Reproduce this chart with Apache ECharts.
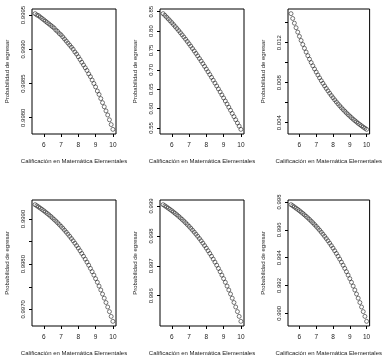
<!DOCTYPE html>
<html>
<head>
<meta charset="utf-8">
<script src="https://cdn.jsdelivr.net/npm/echarts@6/dist/echarts.min.js"></script>
<style>
  html, body { margin: 0; padding: 0; background: #fff; }
  #main { width: 384px; height: 357px; }
</style>
</head>
<body>
<div id="main"></div>
<script>
// nota de Matemática Elementales (eje x)
const notas = [5.5, 5.6, 5.7, 5.8, 5.9, 6.0, 6.1, 6.2, 6.3, 6.4, 6.5, 6.6, 6.7, 6.8, 6.9,
  7.0, 7.1, 7.2, 7.3, 7.4, 7.5, 7.6, 7.7, 7.8, 7.9, 8.0, 8.1, 8.2, 8.3, 8.4, 8.5, 8.6, 8.7,
  8.8, 8.9, 9.0, 9.1, 9.2, 9.3, 9.4, 9.5, 9.6, 9.7, 9.8, 9.9, 10.0]

// probabilidad de egresar, un arreglo por panel
const prob1 = [0.99952, 0.99950, 0.99949, 0.99947, 0.99945, 0.99943, 0.99941, 0.99939, 0.99937,
  0.99935, 0.99933, 0.99931, 0.99928, 0.99926, 0.99923, 0.99921, 0.99918, 0.99915, 0.99912,
  0.99909, 0.99906, 0.99903, 0.99900, 0.99896, 0.99893, 0.99889, 0.99885, 0.99881, 0.99877,
  0.99873, 0.99869, 0.99864, 0.99860, 0.99855, 0.99850, 0.99845, 0.99839, 0.99834, 0.99828,
  0.99822, 0.99816, 0.99810, 0.99804, 0.99797, 0.99790, 0.99783]
const prob2 = [0.8450, 0.8406, 0.8360, 0.8314, 0.8266, 0.8218, 0.8168, 0.8117, 0.8065, 0.8012,
  0.7958, 0.7903, 0.7847, 0.7790, 0.7732, 0.7672, 0.7612, 0.7550, 0.7487, 0.7424, 0.7359,
  0.7293, 0.7227, 0.7159, 0.7090, 0.7020, 0.6950, 0.6878, 0.6806, 0.6732, 0.6658, 0.6583,
  0.6507, 0.6430, 0.6353, 0.6275, 0.6196, 0.6117, 0.6037, 0.5956, 0.5875, 0.5793, 0.5712,
  0.5629, 0.5547, 0.5464]
const prob3 = [0.014900, 0.014415, 0.013946, 0.013492, 0.013052, 0.012627, 0.012216, 0.011818,
  0.011432, 0.011058, 0.010697, 0.010348, 0.010010, 0.009682, 0.009366, 0.009060, 0.008764,
  0.008477, 0.008199, 0.007931, 0.007671, 0.007420, 0.007177, 0.006941, 0.006715, 0.006494,
  0.006281, 0.006075, 0.005875, 0.005683, 0.005497, 0.005316, 0.005141, 0.004972, 0.004809,
  0.004651, 0.004499, 0.004351, 0.004207, 0.004069, 0.003935, 0.003806, 0.003681, 0.003560,
  0.003443, 0.003330]
const prob4 = [0.999316, 0.999291, 0.999265, 0.999239, 0.999211, 0.999182, 0.999153, 0.999122,
  0.999091, 0.999058, 0.999024, 0.998989, 0.998953, 0.998916, 0.998877, 0.998837, 0.998796,
  0.998753, 0.998709, 0.998663, 0.998616, 0.998567, 0.998517, 0.998464, 0.998410, 0.998355,
  0.998297, 0.998237, 0.998175, 0.998111, 0.998045, 0.997977, 0.997906, 0.997833, 0.997758,
  0.997679, 0.997599, 0.997515, 0.997429, 0.997339, 0.997247, 0.997151, 0.997052, 0.996950,
  0.996844, 0.996735]
const prob5 = [0.999043, 0.999005, 0.998966, 0.998926, 0.998884, 0.998841, 0.998796, 0.998750,
  0.998703, 0.998653, 0.998602, 0.998550, 0.998495, 0.998439, 0.998380, 0.998320, 0.998257,
  0.998193, 0.998126, 0.998057, 0.997986, 0.997912, 0.997836, 0.997757, 0.997675, 0.997591,
  0.997503, 0.997413, 0.997320, 0.997223, 0.997123, 0.997020, 0.996913, 0.996803, 0.996689,
  0.996571, 0.996449, 0.996322, 0.996192, 0.996057, 0.995917, 0.995773, 0.995623, 0.995469,
  0.995309, 0.995144]
const prob6 = [0.997806, 0.997725, 0.997641, 0.997554, 0.997465, 0.997372, 0.997276, 0.997177,
  0.997074, 0.996968, 0.996858, 0.996745, 0.996628, 0.996506, 0.996381, 0.996251, 0.996117,
  0.995978, 0.995835, 0.995686, 0.995533, 0.995374, 0.995210, 0.995040, 0.994865, 0.994684,
  0.994496, 0.994302, 0.994101, 0.993894, 0.993679, 0.993457, 0.993228, 0.992990, 0.992745,
  0.992491, 0.992228, 0.991957, 0.991676, 0.991386, 0.991086, 0.990775, 0.990454, 0.990122,
  0.989779, 0.989424]

// marcas del eje x
const xTicks = [6, 7, 8, 9, 10]
// marcas y etiquetas del eje y por panel
const yTicks1 = [0.9980, 0.9985, 0.9990, 0.9995]
const yLabels1 = [0.9980, 0.9985, 0.9990, 0.9995]
const yTicks2 = [0.55, 0.60, 0.65, 0.70, 0.75, 0.80, 0.85]
const yLabels2 = [0.55, 0.60, 0.65, 0.70, 0.75, 0.80, 0.85]
const yTicks3 = [0.004, 0.006, 0.008, 0.010, 0.012, 0.014]
const yLabels3 = [0.004, 0.008, 0.012]
const yTicks4 = [0.9970, 0.9975, 0.9980, 0.9985, 0.9990]
const yLabels4 = [0.9970, 0.9980, 0.9990]
const yTicks5 = [0.996, 0.997, 0.998, 0.999]
const yLabels5 = [0.996, 0.997, 0.998, 0.999]
const yTicks6 = [0.990, 0.992, 0.994, 0.996, 0.998]
const yLabels6 = [0.990, 0.992, 0.994, 0.996, 0.998]

const xTitle = 'Calificación en Matemática Elementales'
const yTitle = 'Probabilidad de egresar'

const paneles = [
  { y: prob1, ticks: yTicks1, labels: yLabels1, dec: 4 },
  { y: prob2, ticks: yTicks2, labels: yLabels2, dec: 2 },
  { y: prob3, ticks: yTicks3, labels: yLabels3, dec: 3 },
  { y: prob4, ticks: yTicks4, labels: yLabels4, dec: 4 },
  { y: prob5, ticks: yTicks5, labels: yLabels5, dec: 3 },
  { y: prob6, ticks: yTicks6, labels: yLabels6, dec: 3 }
]

const font = 'Liberation Sans, Arial, sans-serif'
const txt = '#222'
// rango como en R: 4% extra a cada lado
const ext = v => (v.max - v.min) * 0.04

const grids = [], xAxes = [], yAxes = [], series = []
paneles.forEach((p, i) => {
  const col = i % 3
  const row = Math.floor(i / 3)
  grids.push({
    left: 32 + col * 128,
    top: row === 0 ? 9 : 200,
    width: 84,
    height: row === 0 ? 125 : 126,
    show: true,
    borderColor: '#000',
    borderWidth: 1,
    backgroundColor: 'transparent'
  })
  xAxes.push({
    gridIndex: i,
    type: 'value',
    min: v => v.min - ext(v),
    max: v => v.max + ext(v),
    axisLine: { show: false },
    splitLine: { show: false },
    axisTick: { show: true, length: 3, customValues: xTicks, lineStyle: { color: '#000', width: 1 } },
    axisLabel: { customValues: xTicks, fontSize: 6.5, color: txt, fontFamily: font, margin: 8 },
    name: xTitle,
    nameLocation: 'middle',
    nameGap: 24,
    nameTextStyle: { fontSize: 6, color: txt, fontFamily: font }
  })
  yAxes.push({
    gridIndex: i,
    type: 'value',
    min: v => v.min - ext(v),
    max: v => v.max + ext(v),
    axisLine: { show: false },
    splitLine: { show: false },
    axisTick: { show: true, length: 3, customValues: p.ticks, lineStyle: { color: '#000', width: 1 } },
    axisLabel: {
      customValues: p.labels,
      rotate: 90,
      fontSize: 6,
      color: txt,
      fontFamily: font,
      margin: 6,
      formatter: val => val.toFixed(p.dec)
    },
    name: yTitle,
    nameLocation: 'middle',
    nameRotate: 90,
    nameGap: 22,
    nameTextStyle: { fontSize: 6, color: txt, fontFamily: font }
  })
  series.push({
    type: 'scatter',
    xAxisIndex: i,
    yAxisIndex: i,
    symbol: 'circle',
    symbolSize: 4,
    itemStyle: { color: 'rgba(0,0,0,0)', borderColor: '#111', borderWidth: 0.7 },
    data: notas.map((x, j) => [x, p.y[j]])
  })
})

const myChart = echarts.init(document.getElementById('main'))
myChart.setOption({
  animation: false,
  backgroundColor: '#fff',
  grid: grids,
  xAxis: xAxes,
  yAxis: yAxes,
  series: series
})
</script>
</body>
</html>
